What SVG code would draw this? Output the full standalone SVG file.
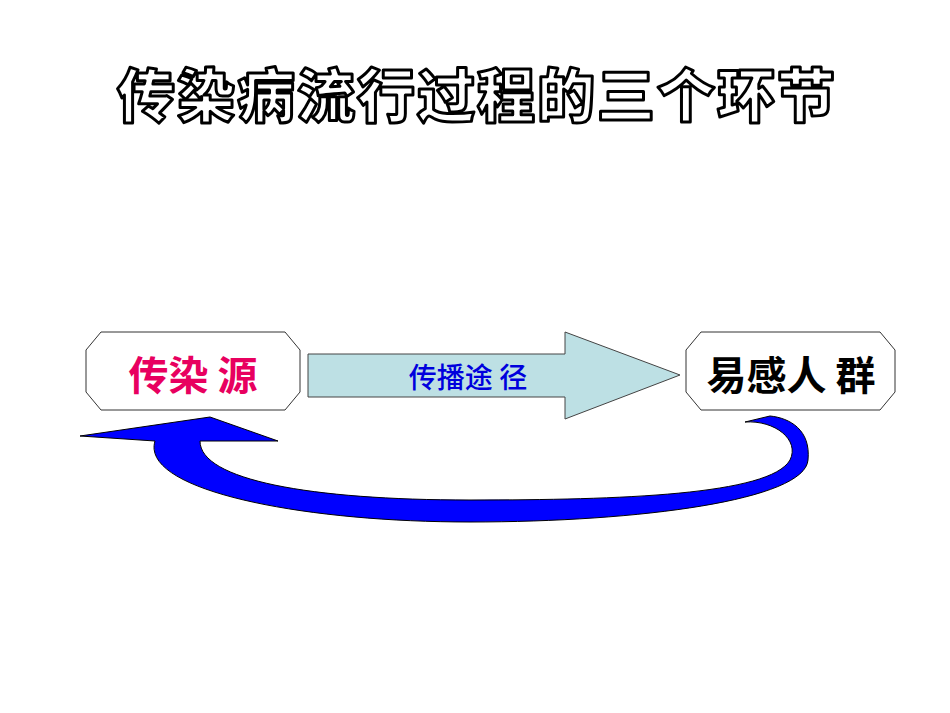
<svg xmlns="http://www.w3.org/2000/svg" width="950" height="713" viewBox="0 0 950 713">
<style>
.t{font-family:"Noto Sans CJK SC",sans-serif;}
.oct{fill:#fff;stroke:#333;stroke-width:1}
</style>
<rect width="950" height="713" fill="#fff"/>
<g id="title"><text class="t" x="477" y="117" text-anchor="middle" font-size="58" font-weight="900" fill="#fff" stroke="#000" stroke-width="3" stroke-linejoin="round" letter-spacing="2">传染病流行过程的三个环节</text></g>
<g id="connectors">
<path d="M308,354 H565 V332 L680,375 L565,419 V397 H308 Z" fill="#bde0e4" stroke="#444" stroke-width="1"/>
<text class="t" x="468" y="388" text-anchor="middle" font-size="28" font-weight="500" fill="#0000dd">传播途 径</text>
<path d="M745,422 C775,420 800,440 790,460 C770,495 620,500 470,500 C310,500 200,480 200,441 L278,441 L210,417 L80,436 L155,441 C140,490 300,522 470,522 C640,522 805,500 808,460 C811,430 790,418 770,416 Z" fill="#0000ff" stroke="#000" stroke-width="1"/>
</g>
<g id="source"><path class="oct" d="M101,332 H285 L300,350 V392 L285,410 H101 L86,392 V350 Z"/>
<text class="t" x="193" y="390" text-anchor="middle" font-size="40" font-weight="700" fill="#e8005f">传染 源</text></g>
<g id="crowd"><path class="oct" d="M701,332 H880 L895,350 V392 L880,410 H701 L686,392 V350 Z"/>
<text class="t" x="791" y="390" text-anchor="middle" font-size="40" font-weight="700" fill="#000">易感人 群</text></g>
</svg>
